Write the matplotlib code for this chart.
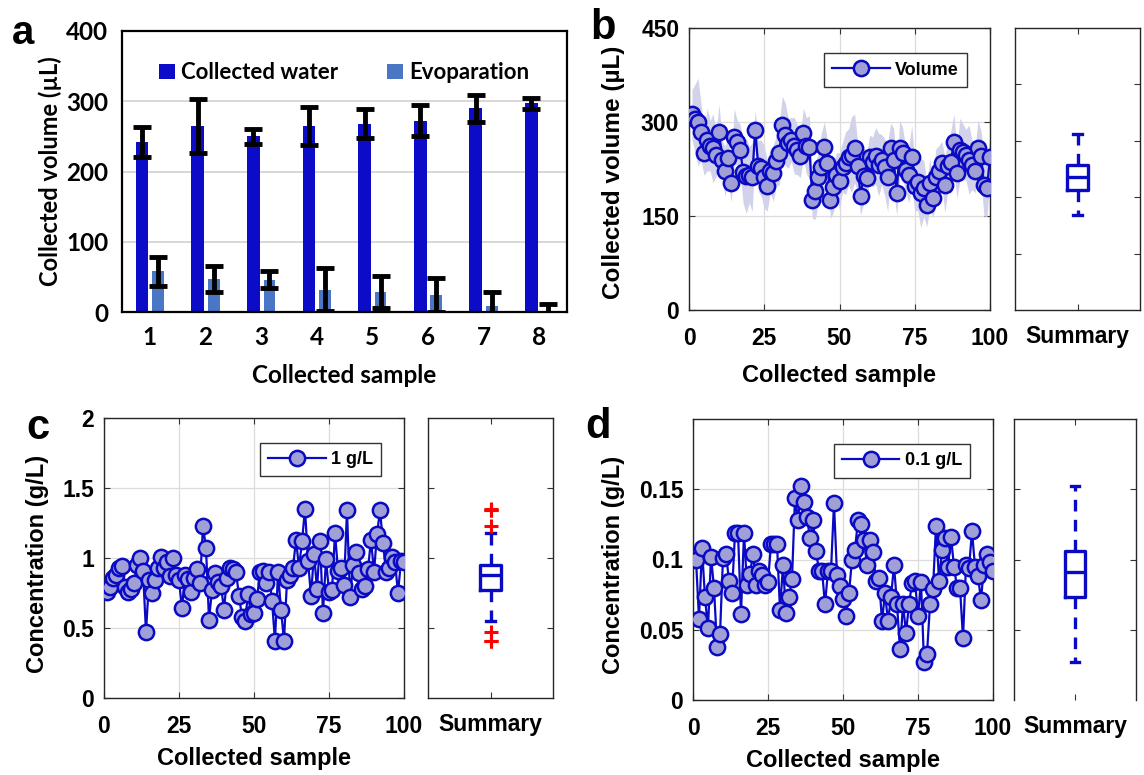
import numpy as np
import matplotlib.pyplot as plt
from matplotlib.ticker import FormatStrFormatter

# panel a: collected water vs evaporation per sample
samples = [1, 2, 3, 4, 5, 6, 7, 8]
water = [242, 265, 250, 265, 268, 272, 290, 297]
water_err = [22, 38, 11, 27, 21, 22, 19, 8]
evap = [58, 47, 46, 32, 28, 24, 8, 2]
evap_err = [21, 19, 12, 30, 23, 24, 21, 9]

# panel b: collected volume (uL) for 100 samples, with spread band
volume = [312, 305, 300, 284, 250, 272, 262, 258, 248, 284,
          240, 222, 242, 202, 276, 268, 256, 220, 214, 216,
          212, 288, 230, 226, 212, 198, 222, 218, 238, 250,
          296, 280, 266, 272, 262, 256, 246, 282, 262, 260,
          176, 190, 212, 228, 260, 234, 176, 196, 216, 206,
          228, 234, 244, 248, 258, 230, 182, 214, 210, 244,
          236, 246, 232, 240, 228, 212, 258, 240, 186, 258,
          250, 224, 216, 244, 198, 204, 186, 194, 168, 202,
          178, 212, 222, 234, 200, 230, 236, 268, 218, 256,
          252, 248, 240, 232, 222, 258, 246, 200, 194, 244]
volume_spread = [40, 55, 70, 45, 35, 50, 40, 55, 35, 45,
                 30, 40, 35, 30, 45, 35, 40, 50, 60, 45,
                 55, 30, 40, 45, 50, 40, 35, 45, 40, 50,
                 45, 50, 40, 35, 45, 40, 35, 40, 45, 50,
                 30, 45, 40, 55, 40, 35, 30, 40, 35, 45,
                 40, 50, 45, 60, 55, 40, 30, 45, 40, 35,
                 40, 45, 50, 40, 45, 55, 40, 50, 35, 45,
                 40, 35, 45, 50, 40, 45, 55, 45, 35, 40,
                 30, 45, 40, 35, 45, 40, 50, 45, 40, 50,
                 45, 40, 55, 40, 35, 45, 40, 50, 45, 35]

# panel c: 1 g/L concentration
conc_1 = [0.76, 0.79, 0.86, 0.88, 0.93, 0.94, 0.79, 0.76, 0.78, 0.82,
          0.95, 1.00, 0.91, 0.47, 0.84, 0.75, 0.84, 0.93, 1.01, 0.93,
          0.97, 0.87, 1.00, 0.88, 0.84, 0.64, 0.88, 0.85, 0.76, 0.86,
          0.92, 0.82, 1.23, 1.07, 0.56, 0.77, 0.89, 0.83, 0.80, 0.63,
          0.86, 0.93, 0.92, 0.90, 0.73, 0.58, 0.55, 0.74, 0.60, 0.61,
          0.71, 0.90, 0.91, 0.82, 0.90, 0.69, 0.41, 0.90, 0.63, 0.41,
          0.84, 0.88, 0.93, 1.13, 0.93, 1.12, 1.35, 0.98, 0.73, 1.03,
          0.78, 1.12, 0.61, 0.99, 0.76, 0.77, 1.18, 0.91, 0.93, 0.81,
          1.34, 0.72, 0.95, 1.04, 0.89, 0.78, 0.80, 0.92, 1.13, 0.90,
          1.17, 1.34, 1.11, 0.90, 0.93, 1.01, 0.97, 0.75, 0.98, 0.97]

# panel d: 0.1 g/L concentration
conc_01 = [0.100, 0.058, 0.108, 0.073, 0.051, 0.102, 0.080, 0.038, 0.047, 0.101,
           0.104, 0.085, 0.076, 0.119, 0.119, 0.061, 0.119, 0.082, 0.090, 0.104,
           0.082, 0.092, 0.089, 0.082, 0.084, 0.111, 0.111, 0.111, 0.064, 0.096,
           0.062, 0.073, 0.086, 0.144, 0.128, 0.152, 0.141, 0.130, 0.115, 0.128,
           0.106, 0.092, 0.092, 0.068, 0.092, 0.092, 0.140, 0.089, 0.081, 0.072,
           0.060, 0.076, 0.100, 0.107, 0.128, 0.125, 0.114, 0.096, 0.114, 0.105,
           0.085, 0.087, 0.056, 0.076, 0.056, 0.073, 0.096, 0.068, 0.036, 0.068,
           0.048, 0.068, 0.083, 0.085, 0.060, 0.084, 0.027, 0.033, 0.068, 0.079,
           0.124, 0.085, 0.107, 0.115, 0.095, 0.116, 0.095, 0.080, 0.080, 0.044,
           0.096, 0.094, 0.120, 0.095, 0.088, 0.071, 0.096, 0.104, 0.098, 0.092]

plt.rcParams['font.family'] = ['Liberation Sans', 'DejaVu Sans']
plt.rcParams['font.weight'] = 'bold'
plt.rcParams['axes.labelweight'] = 'bold'

BLUE = '#0A0AC4'
FACE = '#A0A0D6'
GRID = '#DCDCDC'
FS = 16.5
LATO = ['Lato', 'DejaVu Sans']

fig = plt.figure(figsize=(11.44, 7.75), dpi=100)
W, H = 1144, 775


def rect(l, r, t, b):
    return [l / W, 1 - b / H, (r - l) / W, (b - t) / H]


# ---------- panel a ----------
xa = np.array(samples)
ax = fig.add_axes(rect(122, 567, 31, 312))
ax.bar(xa - 0.14, water, 0.23, color='#0B0BC8', label='Collected water', zorder=2)
ax.bar(xa + 0.15, evap, 0.21, color='#4A76C6', label='Evoparation', zorder=2)
ax.errorbar(xa - 0.14, water, yerr=water_err, fmt='none', ecolor='black',
            elinewidth=3.5, capsize=6.5, capthick=3.5, zorder=3)
ax.errorbar(xa + 0.15, evap, yerr=evap_err, fmt='none', ecolor='black',
            elinewidth=3.5, capsize=6.5, capthick=3.5, zorder=3)
ax.set_xlim(0.5, 8.5)
ax.set_ylim(0, 400)
ax.set_xticks(samples)
ax.set_yticks([0, 100, 200, 300, 400])
ax.grid(axis='y', color='#D4D4D4', lw=1.3)
ax.set_axisbelow(True)
ax.tick_params(length=0, labelsize=17.5, pad=10)
for lab in ax.get_xticklabels() + ax.get_yticklabels():
    lab.set_family(LATO)
for s in ax.spines.values():
    s.set_linewidth(1.6)
ax.set_ylabel('Collected volume (µL)', fontsize=17, family=LATO)
ax.set_xlabel('Collected sample', fontsize=17.5, family=LATO)
ax.yaxis.set_label_coords(-0.135, 0.5)
ax.xaxis.set_label_coords(0.5, -0.185)
ax.legend(ncol=2, frameon=False, loc='upper center', bbox_to_anchor=(0.5, 0.96),
          prop={'family': LATO, 'weight': 'bold', 'size': 16},
          handlelength=0.7, handleheight=0.7, handletextpad=0.3, columnspacing=2.2)
fig.text(23 / W, 1 - 33 / H, 'a', fontsize=29, ha='center', va='center')


def style_matlab(a):
    a.tick_params(direction='in', length=4, width=0.8, top=True, right=True,
                  labelsize=FS, color='#333333')
    for s in a.spines.values():
        s.set_linewidth(1.0)
        s.set_color('#262626')


def main_panel(box, vals, ylim, yticks, label, ylabel, ylsize):
    a = fig.add_axes(box)
    n = np.arange(1, len(vals) + 1)
    a.plot(n, vals, '-o', color=BLUE, mfc=FACE, mec=BLUE, ms=11, mew=1.8,
           lw=1.6, label=label, zorder=3)
    a.set_xlim(0, 100)
    a.set_ylim(*ylim)
    a.set_xticks([0, 25, 50, 75, 100])
    a.set_yticks(yticks)
    a.yaxis.set_major_formatter(FormatStrFormatter('%g'))
    a.grid(True, color=GRID, lw=0.9)
    a.set_axisbelow(True)
    style_matlab(a)
    a.tick_params(axis='x', pad=12)
    a.tick_params(axis='y', pad=7)
    a.set_xlabel('Collected sample', fontsize=17)
    a.set_ylabel(ylabel, fontsize=ylsize)
    a.legend(loc='upper right', bbox_to_anchor=(0.924, 0.91), borderaxespad=0,
             fancybox=False, edgecolor='#333333', framealpha=1, fontsize=13,
             handlelength=3.2, borderpad=0.45, handletextpad=0.3)
    return a


def summary_panel(box, vals, ylim, yticks):
    s = fig.add_axes(box)
    s.boxplot(vals, positions=[1], widths=0.17, whis=1.5, capwidths=0.07,
              boxprops=dict(color=BLUE, lw=2.4),
              medianprops=dict(color=BLUE, lw=2.4),
              whiskerprops=dict(color=BLUE, lw=2.4, linestyle=(0, (3.5, 2.5))),
              capprops=dict(color=BLUE, lw=2.4),
              flierprops=dict(marker='+', mec='red', ms=10, mew=2.2))
    s.set_xlim(0.5, 1.5)
    s.set_ylim(*ylim)
    s.set_yticks(yticks)
    s.set_yticklabels([])
    s.set_xticks([1])
    s.set_xticklabels(['Summary'], fontsize=18.5)
    style_matlab(s)
    s.tick_params(axis='x', pad=11)
    return s


# ---------- panel b ----------
nb = np.arange(1, len(volume) + 1)
bx = main_panel(rect(689, 990, 28, 310), volume, (0, 450), [0, 150, 300, 450],
                'Volume', 'Collected volume (µL)', 17.5)
bx.fill_between(nb, np.array(volume) - np.array(volume_spread),
                np.array(volume) + np.array(volume_spread),
                color='#D2D2EA', lw=0, zorder=2)
bx.yaxis.set_label_coords(-0.213, 0.49)
bx.xaxis.set_label_coords(0.5, -0.19)
summary_panel(rect(1015, 1140, 28, 310), volume, (0, 500), [100, 200, 300, 400])
fig.text(603 / W, 1 - 28 / H, 'b', fontsize=30, ha='center', va='center')

# ---------- panel c ----------
cx = main_panel(rect(104, 404, 418, 698), conc_1, (0, 2), [0, 0.5, 1, 1.5, 2],
                '1 g/L', 'Concentration (g/L)', 17)
cx.yaxis.set_label_coords(-0.183, 0.48)
cx.xaxis.set_label_coords(0.5, -0.175)
summary_panel(rect(428, 553, 418, 698), conc_1, (0, 2), [0.5, 1, 1.5])
fig.text(38 / W, 1 - 428 / H, 'c', fontsize=30, ha='center', va='center')

# ---------- panel d ----------
dx = main_panel(rect(693, 993, 419, 700), conc_01, (0, 0.2), [0, 0.05, 0.1, 0.15],
                '0.1 g/L', 'Concentration (g/L)', 17)
dx.yaxis.set_label_coords(-0.227, 0.48)
dx.xaxis.set_label_coords(0.5, -0.174)
ds = summary_panel(rect(1014, 1136, 419, 700), conc_01, (0, 0.2), [0.05, 0.1, 0.15])
ds.spines['bottom'].set_visible(False)
fig.text(598 / W, 1 - 427 / H, 'd', fontsize=30, ha='center', va='center')

fig.savefig('out.png', dpi=100)
